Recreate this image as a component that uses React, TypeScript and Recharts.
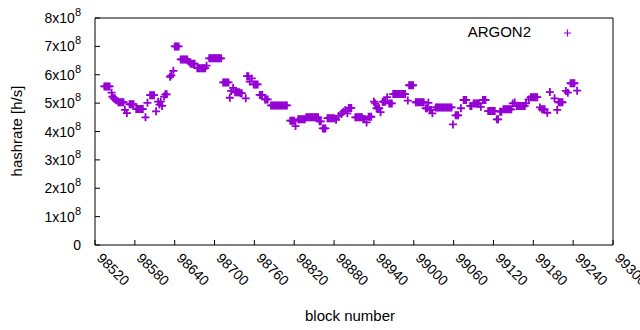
import { Legend, Scatter, ScatterChart, XAxis, YAxis } from "recharts";

// block heights and hashrate (in 10^8 h/s)
const blockNumbers = [
  98534, 98536, 98538, 98540, 98542, 98545, 98546, 98548, 98550, 98552,
  98555, 98557, 98559, 98561, 98563, 98565, 98568, 98572, 98574, 98576,
  98578, 98582, 98584, 98586, 98588, 98590, 98592, 98596, 98599, 98603,
  98605, 98607, 98609, 98612, 98615, 98617, 98619, 98621, 98624, 98626,
  98628, 98633, 98635, 98638, 98640, 98642, 98644, 98646, 98649, 98651,
  98653, 98655, 98657, 98659, 98662, 98664, 98666, 98668, 98670, 98674,
  98676, 98678, 98680, 98682, 98684, 98686, 98688, 98692, 98694, 98696,
  98698, 98700, 98702, 98704, 98706, 98708, 98710, 98713, 98715, 98717,
  98719, 98721, 98723, 98725, 98728, 98731, 98733, 98735, 98737, 98739,
  98741, 98747, 98749, 98751, 98753, 98756, 98759, 98761, 98763, 98765,
  98768, 98770, 98772, 98776, 98778, 98780, 98785, 98787, 98789, 98791,
  98793, 98795, 98797, 98799, 98801, 98803, 98805, 98807, 98809, 98814,
  98816, 98818, 98820, 98822, 98826, 98828, 98830, 98832, 98834, 98836,
  98838, 98840, 98842, 98844, 98846, 98848, 98850, 98852, 98854, 98856,
  98858, 98860, 98863, 98865, 98867, 98870, 98872, 98874, 98876, 98878,
  98880, 98883, 98887, 98891, 98894, 98897, 98900, 98902, 98904, 98906,
  98912, 98914, 98916, 98918, 98920, 98922, 98924, 98926, 98929, 98932,
  98934, 98936, 98940, 98942, 98944, 98946, 98948, 98950, 98953, 98955,
  98957, 98960, 98963, 98965, 98967, 98969, 98971, 98973, 98975, 98977,
  98979, 98981, 98983, 98985, 98987, 98991, 98993, 98995, 98997, 98999,
  99003, 99005, 99007, 99009, 99011, 99013, 99015, 99018, 99020, 99022,
  99024, 99026, 99028, 99033, 99035, 99037, 99039, 99041, 99043, 99045,
  99047, 99049, 99051, 99053, 99055, 99057, 99059, 99063, 99065, 99067,
  99071, 99075, 99077, 99079, 99085, 99087, 99090, 99092, 99094, 99096,
  99098, 99101, 99104, 99106, 99108, 99112, 99114, 99116, 99118, 99120,
  99122, 99125, 99127, 99130, 99132, 99135, 99137, 99139, 99141, 99143,
  99145, 99147, 99149, 99152, 99155, 99157, 99159, 99161, 99163, 99165,
  99167, 99169, 99173, 99176, 99178, 99180, 99182, 99184, 99186, 99190,
  99193, 99195, 99197, 99201, 99205, 99212, 99216, 99218, 99220, 99222,
  99224, 99229, 99232, 99236, 99238, 99240, 99242, 99246,
];

const hashrates = [
  5.59, 5.59, 5.59, 5.59, 5.59, 5.37, 5.23, 5.17, 5.17, 5.1,
  5.03, 5.03, 5.03, 5.03, 5.03, 4.76, 4.65, 4.96, 4.96, 4.96,
  4.96, 4.79, 4.79, 4.79, 4.79, 4.79, 4.79, 4.5, 5.01, 5.28,
  5.28, 5.28, 5.28, 4.71, 5.05, 4.95, 5.05, 4.9, 5.23, 5.31,
  5.31, 5.93, 5.98, 6.14, 7.0, 7.0, 7.0, 7.0, 6.54, 6.54,
  6.54, 6.54, 6.54, 6.54, 6.45, 6.39, 6.39, 6.39, 6.39, 6.23,
  6.23, 6.23, 6.23, 6.23, 6.23, 6.23, 6.32, 6.58, 6.58, 6.58,
  6.58, 6.58, 6.58, 6.58, 6.58, 6.58, 6.58, 5.73, 5.73, 5.73,
  5.73, 5.73, 5.19, 5.43, 5.54, 5.38, 5.38, 5.38, 5.38, 5.35,
  5.35, 5.17, 5.95, 5.95, 5.76, 5.87, 5.66, 5.66, 5.66, 5.66,
  5.29, 5.29, 5.29, 5.13, 5.13, 5.13, 4.92, 4.92, 4.92, 4.92,
  4.92, 4.92, 4.92, 4.92, 4.92, 4.92, 4.92, 4.92, 4.92, 4.38,
  4.38, 4.38, 4.38, 4.19, 4.43, 4.43, 4.43, 4.43, 4.43, 4.43,
  4.5, 4.5, 4.5, 4.5, 4.5, 4.5, 4.5, 4.5, 4.5, 4.5,
  4.36, 4.36, 4.11, 4.11, 4.11, 4.47, 4.47, 4.47, 4.47, 4.47,
  4.47, 4.41, 4.55, 4.62, 4.7, 4.76, 4.64, 4.83, 4.83, 4.83,
  4.5, 4.5, 4.5, 4.5, 4.5, 4.5, 4.44, 4.44, 4.32, 4.52,
  4.52, 4.52, 5.05, 4.99, 4.82, 4.82, 4.82, 4.68, 5.05, 5.05,
  5.05, 5.21, 4.99, 4.99, 4.99, 5.32, 5.32, 5.32, 5.32, 5.32,
  5.32, 5.32, 5.32, 5.32, 5.32, 5.09, 5.63, 5.63, 5.63, 5.63,
  5.03, 5.03, 5.03, 5.03, 5.03, 5.03, 5.03, 4.82, 4.82, 5.01,
  4.76, 4.76, 4.64, 4.85, 4.85, 4.85, 4.85, 4.85, 4.85, 4.85,
  4.85, 4.85, 4.85, 4.85, 4.85, 4.85, 4.25, 4.57, 4.57, 4.57,
  4.82, 5.11, 5.11, 5.11, 4.9, 4.9, 4.99, 4.99, 4.99, 4.99,
  4.99, 4.87, 5.11, 5.11, 5.11, 4.72, 4.72, 4.72, 4.72, 4.72,
  4.72, 4.43, 4.43, 4.7, 4.7, 4.78, 4.78, 4.78, 4.78, 4.78,
  4.78, 4.78, 4.99, 5.02, 4.9, 4.9, 4.9, 4.9, 4.9, 4.9,
  4.9, 4.99, 5.13, 5.21, 5.21, 5.21, 5.21, 5.21, 5.21, 4.85,
  4.78, 4.78, 4.78, 4.66, 5.39, 5.17, 4.76, 5.03, 5.03, 5.03,
  5.03, 5.43, 5.37, 5.7, 5.7, 5.7, 5.7, 5.44,
];

const blockTicks = [
  98520, 98580, 98640, 98700, 98760, 98820, 98880, 98940, 99000, 99060, 99120,
  99180, 99240, 99300,
];
const hashTicks = [0, 1, 2, 3, 4, 5, 6, 7, 8];

const COLOR = "#9400d3";
const FONT = "'Liberation Sans', Arial, sans-serif";

const data = blockNumbers.map((block, i) => ({ block, hashrate: hashrates[i] }));

const Cross = (props: any) => {
  const { cx, cy } = props;
  return (
    <path
      d={`M${cx - 4},${cy}h8M${cx},${cy - 4}v8`}
      stroke={COLOR}
      strokeWidth={1.8}
      fill="none"
    />
  );
};

const XTick = ({ x, y, payload }: any) => (
  <text
    x={x + 1}
    y={y - 3}
    transform={`rotate(45 ${x + 1} ${y - 3})`}
    textAnchor="start"
    fontFamily={FONT}
    fontSize={14}
    fill="#000"
  >
    {payload.value}
  </text>
);

const YTick = ({ x, y, payload }: any) => {
  const v = payload.value;
  return (
    <text x={x} y={y} dy={5} textAnchor="end" fontFamily={FONT} fontSize={14} fill="#000">
      {v === 0 ? (
        "0"
      ) : (
        <>
          <tspan>{`${v}x10`}</tspan>
          <tspan dy={-7} fontSize={11}>
            8
          </tspan>
        </>
      )}
    </text>
  );
};

const LegendBox = () => (
  <svg width={150} height={24}>
    <text x={81} y={17} textAnchor="end" fontFamily={FONT} fontSize={15} fill="#000">
      ARGON2
    </text>
    <path d="M114,13h7M117.5,9.5v7" stroke={COLOR} strokeWidth={1.2} fill="none" />
  </svg>
);

export default function App() {
  return (
    <div style={{ position: "absolute", left: 0, top: 0, background: "#fff" }}>
      <ScatterChart
        width={640}
        height={330}
        margin={{ top: 17, right: 26, bottom: 84, left: 94 }}
      >
        <XAxis
          dataKey="block"
          type="number"
          domain={[98520, 99300]}
          ticks={blockTicks}
          interval={0}
          height={1}
          stroke="#000"
          tickSize={-5}
          tickMargin={22}
          tick={<XTick />}
          allowDataOverflow
        />
        <XAxis
          xAxisId="top"
          orientation="top"
          type="number"
          domain={[98520, 99300]}
          ticks={blockTicks}
          interval={0}
          height={1}
          stroke="#000"
          tickSize={-5}
          tick={false}
          allowDataOverflow
        />
        <YAxis
          dataKey="hashrate"
          type="number"
          domain={[0, 8]}
          ticks={hashTicks}
          interval={0}
          width={1}
          stroke="#000"
          tickSize={-5}
          tickMargin={19}
          tick={<YTick />}
          allowDataOverflow
        />
        <YAxis
          yAxisId="right"
          orientation="right"
          type="number"
          domain={[0, 8]}
          ticks={hashTicks}
          interval={0}
          width={1}
          stroke="#000"
          tickSize={-5}
          tick={false}
          allowDataOverflow
        />
        <Legend
          layout="horizontal"
          verticalAlign="middle"
          align="center"
          content={<LegendBox />}
          wrapperStyle={{ position: "absolute", left: 450, top: 20, width: 150 }}
        />
        <Scatter
          name="ARGON2"
          data={data}
          fill={COLOR}
          shape={Cross}
          isAnimationActive={false}
        />
        <text
          x={350}
          y={321}
          textAnchor="middle"
          fontFamily={FONT}
          fontSize={15}
          fill="#000"
        >
          block number
        </text>
        <text
          x={22}
          y={131}
          transform="rotate(-90 22 131)"
          textAnchor="middle"
          fontFamily={FONT}
          fontSize={15}
          fill="#000"
        >
          hashrate [h/s]
        </text>
      </ScatterChart>
    </div>
  );
}
